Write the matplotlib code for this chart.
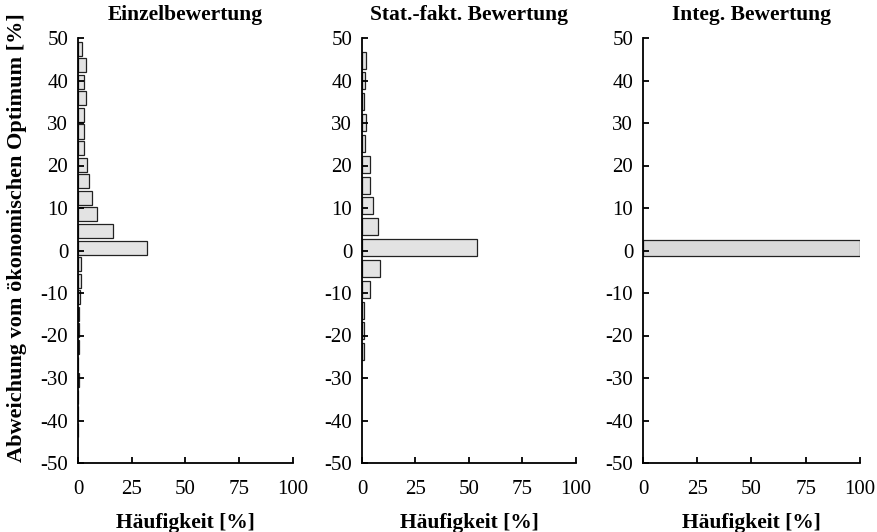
import matplotlib.pyplot as plt

plt.rcParams['font.family'] = ['Liberation Serif', 'DejaVu Serif']
plt.rcParams['axes.unicode_minus'] = False

titles = ["Einzelbewertung", "Stat.-fakt. Bewertung", "Integ. Bewertung"]

# Einzelbewertung: bin centres [%] and frequency [%]
einzel_mitte = [47.5, 43.6, 39.7, 35.8, 31.9, 28.0, 24.1, 20.2, 16.3, 12.4, 8.5, 4.6, 0.7,
                -3.2, -7.1, -11.0, -14.9, -18.8, -22.7, -26.6, -30.5, -34.4, -38.3, -42.2]
einzel_haeuf = [1.7, 3.5, 2.9, 3.5, 2.8, 2.6, 2.8, 4.0, 5.1, 6.3, 8.7, 16.1, 32.3,
                1.4, 1.6, 1.0, 0.4, 0.3, 0.3, 0.2, 0.3, 0.2, 0.2, 0.2]

# Stat.-fakt. Bewertung
stat_mitte = [44.8, 39.9, 35.0, 30.1, 25.2, 20.3, 15.4, 10.5, 5.6, 0.7,
              -4.2, -9.1, -14.0, -18.9, -23.8]
stat_haeuf = [1.9, 1.6, 0.9, 1.9, 1.6, 3.9, 3.9, 5.0, 7.3, 53.7,
              8.4, 3.6, 1.1, 0.8, 0.8]

# Integ. Bewertung
integ_mitte = [0.55]
integ_haeuf = [100.0]

daten = [(einzel_mitte, einzel_haeuf, 3.3, '#e3e3e3'),
         (stat_mitte, stat_haeuf, 4.0, '#e3e3e3'),
         (integ_mitte, integ_haeuf, 3.9, '#d9d9d9')]

fig = plt.figure(figsize=(8.78, 5.32), dpi=100)
lefts = [78 / 878, 362 / 878, 643 / 878]
widths = [215 / 878, 214 / 878, 217 / 878]

for i, (mitte, haeuf, h, farbe) in enumerate(daten):
    ax = fig.add_axes([lefts[i], 69 / 532, widths[i], 425 / 532])
    ax.barh(mitte, haeuf, height=h, color=farbe, edgecolor='#222222', linewidth=0.9)
    ax.set_xlim(0, 100)
    ax.set_ylim(-50, 50)
    ax.set_xticks([0, 25, 50, 75, 100])
    ax.set_yticks(range(-50, 51, 10))
    ax.spines['top'].set_visible(False)
    ax.spines['right'].set_visible(False)
    for s in ['left', 'bottom']:
        ax.spines[s].set_linewidth(1.3)
    ax.tick_params(direction='in', length=4, width=1.3, labelsize=15)
    ax.tick_params(axis='x', pad=12)
    ax.tick_params(axis='y', pad=7)
    ax.set_title(titles[i], fontsize=15.5, fontweight='bold', pad=13)
    ax.set_xlabel("Häufigkeit [%]", fontsize=15.5, fontweight='bold', labelpad=10)
    if i == 0:
        ax.set_ylabel("Abweichung vom ökonomischen Optimum [%]", fontsize=16,
                      fontweight='bold')
        ax.yaxis.set_label_coords(-0.235, 0.53)

fig.savefig('out.png', dpi=100)
